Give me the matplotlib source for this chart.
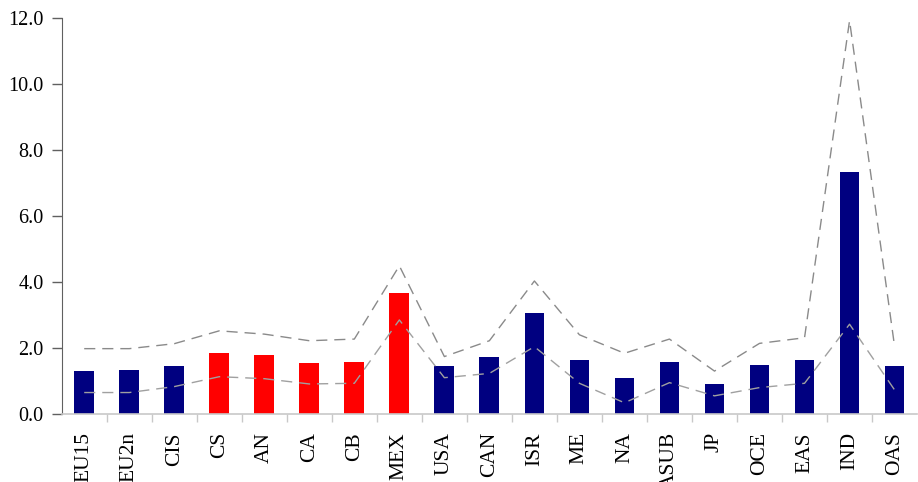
import matplotlib.pyplot as plt
import numpy as np

# regiones y valores
regiones = ['EU15', 'EU2n', 'CIS', 'CS', 'AN', 'CA', 'CB', 'MEX', 'USA', 'CAN',
            'ISR', 'ME', 'NA', 'ASUB', 'JP', 'OCE', 'EAS', 'IND', 'OAS']
valores = [1.30, 1.33, 1.45, 1.85, 1.79, 1.55, 1.58, 3.67, 1.45, 1.73,
           3.06, 1.64, 1.09, 1.58, 0.91, 1.48, 1.64, 7.33, 1.45]
sup = [1.98, 1.98, 2.13, 2.52, 2.42, 2.22, 2.27, 4.49, 1.74, 2.22,
       4.03, 2.40, 1.84, 2.27, 1.30, 2.14, 2.31, 11.92, 2.05]
inf = [0.65, 0.65, 0.83, 1.13, 1.07, 0.91, 0.93, 2.85, 1.10, 1.23,
       2.04, 0.93, 0.34, 0.95, 0.55, 0.80, 0.93, 2.72, 0.73]
rojas = ['CS', 'AN', 'CA', 'CB', 'MEX']

plt.rcParams['font.family'] = ['Liberation Serif', 'DejaVu Serif']

fig = plt.figure(figsize=(9.18, 4.82), dpi=100)
ax = fig.add_axes([0.0672, 0.1411, 0.9318, 0.8216])

x = np.arange(len(regiones))
colores = ['#ff0000' if r in rojas else '#000080' for r in regiones]
ax.bar(x, valores, width=0.44, color=colores, zorder=2)
ax.plot(x, sup, color='#8a8a8a', lw=1.0, dashes=(8, 5), zorder=3, clip_on=False)
ax.plot(x, inf, color='#a0a0a0', lw=1.0, dashes=(8, 5), zorder=3, clip_on=False)

ax.set_xlim(-0.5, len(regiones) - 0.5)
ax.set_ylim(0, 12)
ax.set_yticks(np.arange(0, 12.1, 2))
ax.set_yticklabels(['%.1f' % v for v in np.arange(0, 12.1, 2)], fontsize=14.5)

# ticks del eje x entre categorias
ax.set_xticks(x[:-1] + 0.5)
ax.set_xticklabels([])
ax.set_xticks(x, minor=True)
ax.set_xticklabels(regiones, minor=True, rotation=90, fontsize=15.5)
ax.tick_params(axis='x', which='major', length=6, color='#c8c8c8', width=1)
ax.tick_params(axis='x', which='minor', length=0, pad=13)
ax.tick_params(axis='y', length=7, color='#606060', width=1, pad=6)

for s in ['top', 'right']:
    ax.spines[s].set_visible(False)
ax.spines['left'].set_color('#606060')
ax.spines['bottom'].set_color('#c8c8c8')
ax.spines['bottom'].set_linewidth(1.2)

fig.savefig('out.png', dpi=100)
